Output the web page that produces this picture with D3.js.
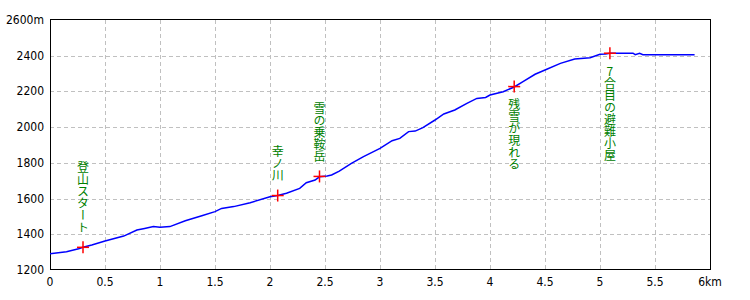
<!DOCTYPE html>
<meta charset="utf-8">
<head>
  <script src="https://cdn.jsdelivr.net/npm/d3@7"></script>
  <style>
    body { margin: 0; background: #fff; }
    .tick-label { font-family: "Liberation Sans Narrow", "DejaVu Sans Condensed", sans-serif; font-size: 12px; fill: #000; }
    .mark-label { font-family: "Noto Sans CJK JP", sans-serif; font-size: 12px; fill: #008000;
                  writing-mode: vertical-rl; text-orientation: upright; }
  </style>
</head>
<body>
<div id="chart"></div>
<script>
// elevation profile: distance (km) and altitude (m)
var distKm = [0, 0.15, 0.26, 0.30, 0.38, 0.5, 0.67, 0.79, 0.86, 0.94, 1.0, 1.09, 1.23, 1.38, 1.5, 1.56, 1.67, 1.82,
              2.0, 2.07, 2.15, 2.27, 2.33, 2.41, 2.45, 2.52, 2.56, 2.63, 2.74, 2.85, 3.0, 3.11, 3.18, 3.26, 3.32, 3.39,
              3.5, 3.58, 3.68, 3.79, 3.88, 3.96, 4.0, 4.12, 4.22, 4.30, 4.41, 4.5, 4.64, 4.77, 4.91, 5.0, 5.05, 5.09,
              5.30, 5.32, 5.36, 5.39, 5.86];
var elevM = [1291, 1302, 1319, 1327, 1340, 1362, 1390, 1424, 1433, 1443, 1439, 1443, 1476, 1504, 1527, 1545, 1555, 1577,
             1610, 1617, 1630, 1657, 1689, 1704, 1722, 1726, 1732, 1754, 1797, 1835, 1881, 1924, 1937, 1975, 1978, 1997,
             2040, 2074, 2096, 2133, 2161, 2166, 2180, 2198, 2225, 2255, 2296, 2320, 2357, 2382, 2389, 2408, 2410, 2414,
             2414, 2406, 2414, 2406, 2406];

// waypoints
var markKm = [0.30, 2.07, 2.45, 4.22, 5.09];
var markM = [1327, 1617, 1724, 2227, 2414];
var markText = ["登山スタート", "幸ノ川", "雪の乗鞍岳", "残雪が現れる", "7合目の避難小屋"];
var markBelow = [false, false, false, true, true];

var xTicks = [0, 0.5, 1, 1.5, 2, 2.5, 3, 3.5, 4, 4.5, 5, 5.5, 6];
var xTickText = ["0", "0.5", "1", "1.5", "2", "2.5", "3", "3.5", "4", "4.5", "5", "5.5", "6km"];
var yTicks = [1200, 1400, 1600, 1800, 2000, 2200, 2400, 2600];
var yTickText = ["1200", "1400", "1600", "1800", "2000", "2200", "2400", "2600m"];

var width = 750, height = 300;
var margin = {top: 20, right: 40, bottom: 30, left: 50};

var svg = d3.select("#chart").append("svg")
    .attr("width", width).attr("height", height);

var x = d3.scaleLinear().domain([0, 6]).range([margin.left, width - margin.right]);
var y = d3.scaleLinear().domain([1200, 2600]).range([height - margin.bottom, margin.top]);

// grid
svg.append("g").selectAll("line")
    .data(xTicks.slice(1, -1)).enter().append("line")
    .attr("x1", function(d) { return Math.round(x(d)) + 0.5; })
    .attr("x2", function(d) { return Math.round(x(d)) + 0.5; })
    .attr("y1", y(2600)).attr("y2", y(1200))
    .attr("stroke", "#c0c0c0").attr("stroke-dasharray", "4,3");
svg.append("g").selectAll("line")
    .data(yTicks.slice(1, -1)).enter().append("line")
    .attr("y1", function(d) { return Math.round(y(d)) + 0.5; })
    .attr("y2", function(d) { return Math.round(y(d)) + 0.5; })
    .attr("x1", x(0)).attr("x2", x(6))
    .attr("stroke", "#c0c0c0").attr("stroke-dasharray", "4,3");

// frame
svg.append("rect")
    .attr("x", x(0) + 0.5).attr("y", y(2600) - 0.5)
    .attr("width", x(6) - x(0)).attr("height", y(1200) - y(2600))
    .attr("fill", "none").attr("stroke", "#000");

// tick labels
svg.append("g").selectAll("text")
    .data(xTicks).enter().append("text")
    .attr("class", "tick-label")
    .attr("x", function(d) { return x(d); })
    .attr("y", y(1200) + 16)
    .attr("text-anchor", "middle")
    .text(function(d, i) { return xTickText[i]; });
svg.append("g").selectAll("text")
    .data(yTicks).enter().append("text")
    .attr("class", "tick-label")
    .attr("x", x(0) - 6)
    .attr("y", function(d) { return y(d) + 4; })
    .attr("text-anchor", "end")
    .text(function(d, i) { return yTickText[i]; });

// profile line
var profile = distKm.map(function(d, i) { return [d, elevM[i]]; });
svg.append("path")
    .datum(profile)
    .attr("fill", "none").attr("stroke", "#0000ff").attr("stroke-width", 1.5)
    .attr("d", d3.line().x(function(d) { return x(d[0]); }).y(function(d) { return y(d[1]); }));

// waypoint crosses
var marks = markKm.map(function(d, i) { return {km: d, m: markM[i], t: markText[i], below: markBelow[i]}; });
var mg = svg.append("g").selectAll("g").data(marks).enter().append("g");
mg.append("line")
    .attr("x1", function(d) { return x(d.km) - 6; }).attr("x2", function(d) { return x(d.km) + 6; })
    .attr("y1", function(d) { return y(d.m); }).attr("y2", function(d) { return y(d.m); })
    .attr("stroke", "#ff0000").attr("stroke-width", 1.5);
mg.append("line")
    .attr("x1", function(d) { return x(d.km); }).attr("x2", function(d) { return x(d.km); })
    .attr("y1", function(d) { return y(d.m) - 6; }).attr("y2", function(d) { return y(d.m) + 6; })
    .attr("stroke", "#ff0000").attr("stroke-width", 1.5);
mg.append("text")
    .attr("class", "mark-label")
    .attr("x", function(d) { return x(d.km); })
    .attr("y", function(d) { return d.below ? y(d.m) + 12 : y(d.m) - 14; })
    .attr("text-anchor", function(d) { return d.below ? "start" : "end"; })
    .text(function(d) { return d.t; });
</script>
</body>
